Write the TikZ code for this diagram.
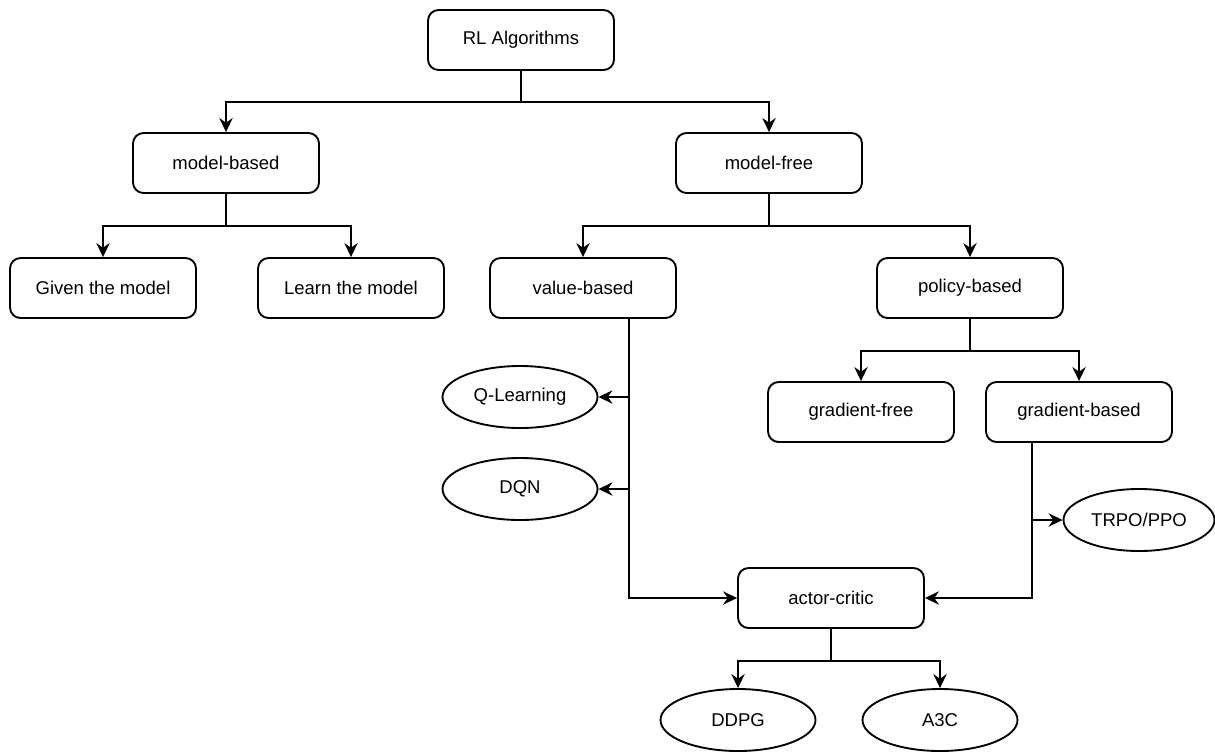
\documentclass[tikz,border=0pt]{standalone}
\usepackage{fontspec}
\setmainfont{Liberation Sans}
\usepackage{xcolor}
\usetikzlibrary{arrows.meta,shapes.geometric}

\begin{document}
\begin{tikzpicture}[
        x=0.03cm, y=-0.03cm,
        box/.style = {draw, rounded corners=9pt, minimum width=5.58cm, minimum height=1.8cm, inner sep=0pt},
        oval/.style = {draw, ellipse, minimum width=4.65cm, minimum height=1.86cm, inner sep=0pt},
        arr/.style = {-{Stealth[length=4.2mm, width=4mm, inset=1.4mm]}},
        every node/.append style = {font=\fontsize{15.8}{18}\selectfont},
        line width=1.6pt
    ]
        \useasboundingbox (0,0) rectangle (1215,751);
        % boxes
        \node[box] (rl) at (521,40) {RL Algorithms};
        \node[box] (mb) at (226,163) {model-based};
        \node[box] (mf) at (769,163) {model-free};
        \node[box] (given) at (103,288) {Given the model};
        \node[box] (learn) at (351,288) {Learn the model};
        \node[box] (vb) at (583,288) {value-based};
        \node[box] (pb) at (970,288) {policy-based};
        \node[box] (gfree) at (861,412) {gradient-free};
        \node[box] (gb) at (1079,412) {gradient-based};
        \node[box] (ac) at (831,598) {actor-critic};
        % algorithms
        \node[oval] (ql) at (520,397) {Q-Learning};
        \node[oval] (dqn) at (520,489) {DQN};
        \node[oval, minimum width=4.53cm] (trpo) at (1139,520) {TRPO/PPO};
        \node[oval] (ddpg) at (738,720) {DDPG};
        \node[oval] (a3c) at (940,720) {A3C};
        \coordinate (vbout) at (629,318);
        \coordinate (gbout) at (1032,442);
        % tree
        \draw[arr] (rl.south) -- ++(0,31) -| (mb.north);
        \draw[arr] (rl.south) -- ++(0,31) -| (mf.north);
        \draw[arr] (mb.south) -- ++(0,32) -| (given.north);
        \draw[arr] (mb.south) -- ++(0,32) -| (learn.north);
        \draw[arr] (mf.south) -- ++(0,32) -| (vb.north);
        \draw[arr] (mf.south) -- ++(0,32) -| (pb.north);
        \draw[arr] (pb.south) -- ++(0,32) -| (gfree.north);
        \draw[arr] (pb.south) -- ++(0,32) -| (gb.north);
        \draw[arr] (vbout) |- (ql.east);
        \draw[arr] (vbout) |- (dqn.east);
        \draw[arr] (vbout) |- (ac.west);
        \draw[arr] (gbout) |- (trpo.west);
        \draw[arr] (gbout) |- (ac.east);
        \draw[arr] (ac.south) -- ++(0,32) -| (ddpg.north);
        \draw[arr] (ac.south) -- ++(0,32) -| (a3c.north);
    \end{tikzpicture}
\end{document}
